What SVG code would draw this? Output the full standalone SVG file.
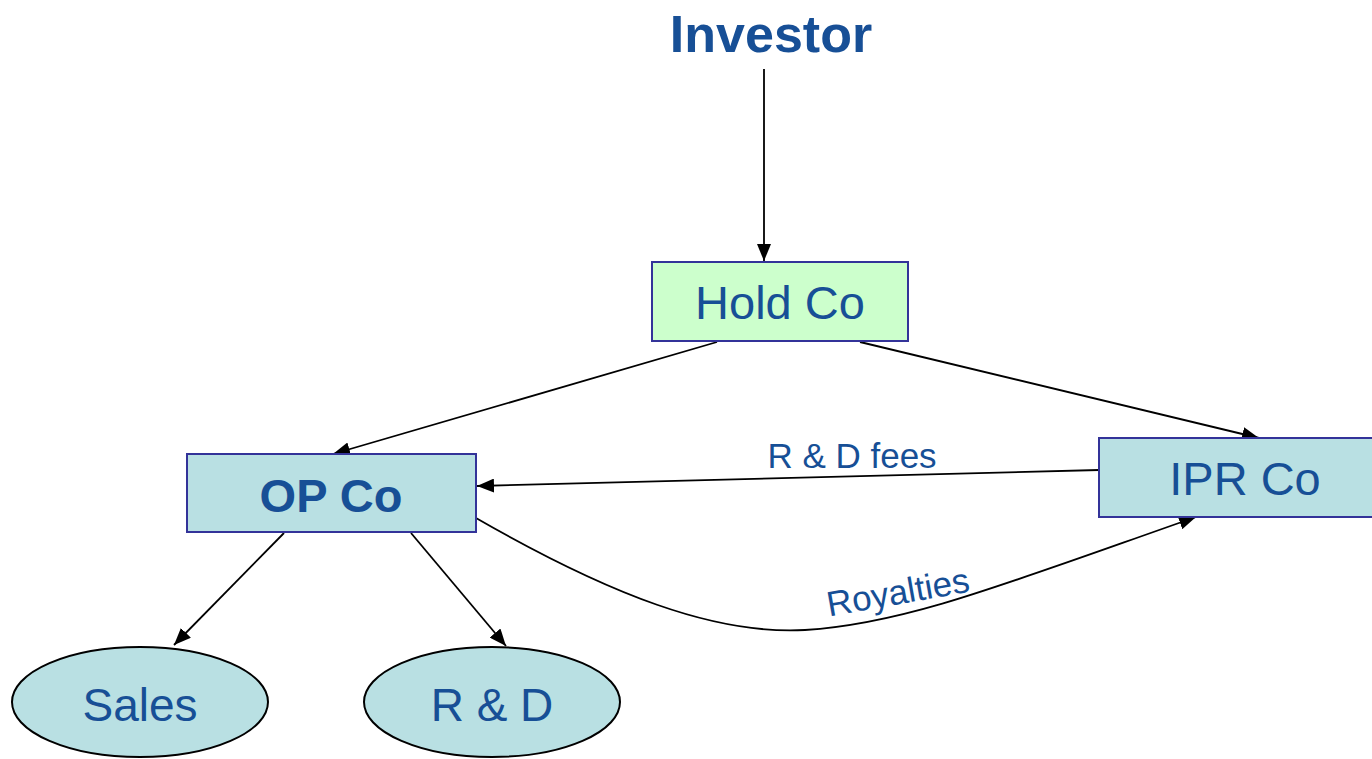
<svg xmlns="http://www.w3.org/2000/svg" width="1372" height="759" viewBox="0 0 1372 759">
<style>
.t{font-family:"Liberation Sans",Arial,sans-serif;fill:#174F96;text-anchor:middle}
.box{fill:#B9E0E3;stroke:#333399;stroke-width:2}
.ell{fill:#B9E0E3;stroke:#000;stroke-width:2}
.c{fill:none;stroke:#000;stroke-width:1.8;marker-end:url(#ah)}
</style>
<defs>
<marker id="ah" markerUnits="userSpaceOnUse" markerWidth="18" markerHeight="14" refX="17" refY="7" orient="auto">
<path d="M0,0 L17,7 L0,14 Z" fill="#000"/>
</marker>
</defs>
<rect width="1372" height="759" fill="#fff"/>
<g id="connectors">
<line class="c" x1="764" y1="69" x2="764" y2="261"/>
<line class="c" x1="717" y1="342" x2="333" y2="454"/>
<line class="c" x1="860" y1="342" x2="1259" y2="438"/>
<line class="c" x1="1099" y1="470" x2="477" y2="486"/>
<line class="c" x1="284" y1="533" x2="174" y2="645"/>
<line class="c" x1="411" y1="533" x2="506" y2="646"/>
<path class="c" d="M476,518 C610,595 715,635 805,630 C905,624 1005,584 1196,517"/>
<text class="t" x="852" y="468" font-size="35">R &amp; D fees</text>
<text class="t" x="0" y="0" font-size="35" transform="translate(900,604) rotate(-10)">Royalties</text>
</g>
<g id="investor">
<text class="t" x="771" y="52" font-size="52" font-weight="bold" fill="#124A94">Investor</text>
</g>
<g id="holdco">
<rect x="652" y="262" width="256" height="79" fill="#CCFFCC" stroke="#333399" stroke-width="2"/>
<text class="t" x="780" y="319" font-size="47">Hold Co</text>
</g>
<g id="opco">
<rect class="box" x="187" y="454" width="289" height="78"/>
<text class="t" x="331" y="512" font-size="47" font-weight="bold">OP Co</text>
</g>
<g id="iprco">
<rect class="box" x="1099" y="438" width="292" height="79"/>
<text class="t" x="1245" y="495" font-size="47">IPR Co</text>
</g>
<g id="sales">
<ellipse class="ell" cx="140" cy="702" rx="128" ry="55"/>
<text class="t" x="140" y="721" font-size="46">Sales</text>
</g>
<g id="rnd">
<ellipse class="ell" cx="492" cy="702" rx="128" ry="55"/>
<text class="t" x="492" y="721" font-size="46">R &amp; D</text>
</g>
</svg>
